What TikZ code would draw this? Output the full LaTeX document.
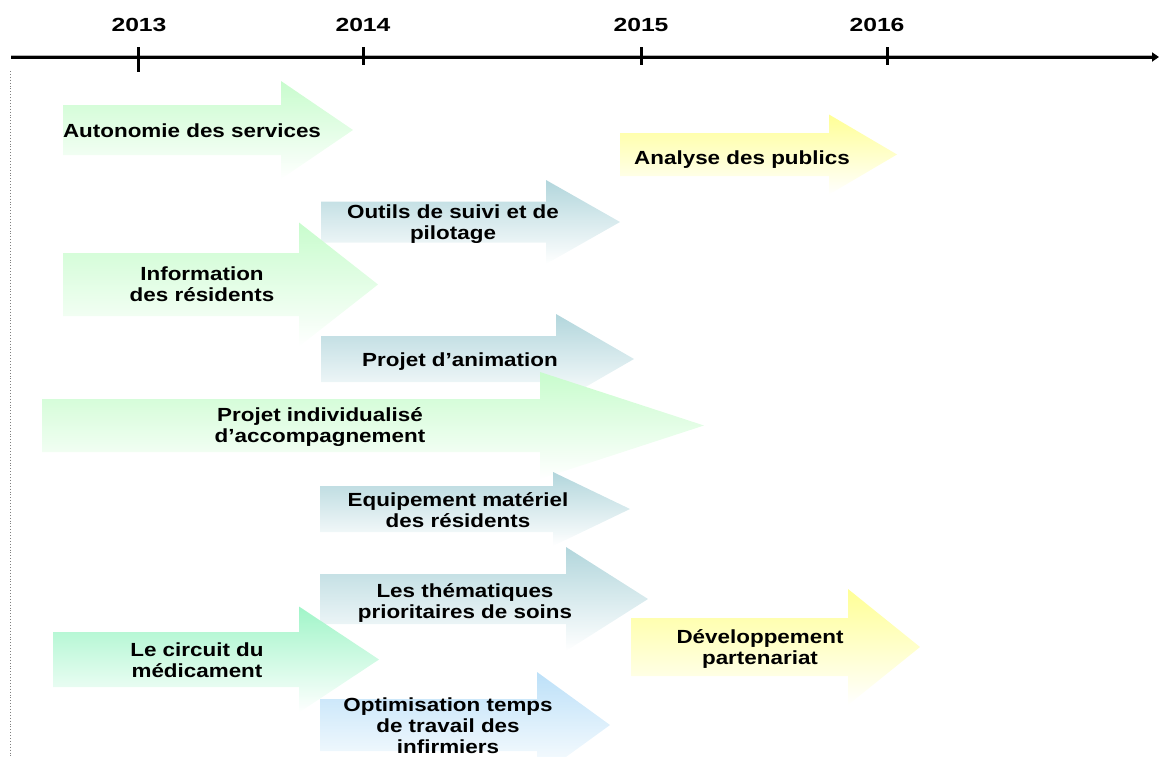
\documentclass[tikz,border=0pt]{standalone}
\usepackage{fontspec}
\setmainfont{Liberation Sans}
\usetikzlibrary{arrows.meta}
\definecolor{cgreen}{RGB}{200,252,205}
\definecolor{cmint}{RGB}{160,245,200}
\definecolor{cblue}{RGB}{178,214,220}
\definecolor{clblue}{RGB}{188,224,248}
\definecolor{cyell}{RGB}{255,255,150}
\newcommand\barrow[8]{% #1 x0 #2 xs #3 xt #4 yc #5 shaft half #6 head half #7 colour #8 name
  \shade[top color=#7, middle color=#7!55!white, bottom color=white]
    ({#1},{#4-#5}) -- ({#2},{#4-#5}) -- ({#2},{#4-#6}) -- ({#3},{#4})
    -- ({#2},{#4+#6}) -- ({#2},{#4+#5}) -- ({#1},{#4+#5}) -- cycle;
  \coordinate (#8) at ({#3},{#4});}
\newcommand\lbl[1]{\scalebox{1.18}[1]{\begin{tabular}{@{}c@{}}#1\end{tabular}}}
\tikzset{
  lab/.style={inner sep=0pt, font=\fontsize{19}{21}\selectfont\bfseries},
  yearlab/.style={inner sep=0pt, anchor=base, font=\fontsize{19}{21}\selectfont\bfseries},
  tick/.style={line width=3pt},
}
\begin{document}
\begin{tikzpicture}[x=1pt,y=-1pt]
\useasboundingbox (0,0) rectangle (1159,756);
% axis
\coordinate (ax0) at (11,57);
\coordinate (ax1) at (1159,57);
\draw[line width=4pt, gray!60] (ax0) -- ([xshift=-6pt]ax1);
\draw[line width=3pt, -{Triangle[length=7pt,width=9pt]}] (ax0) -- (ax1);
\coordinate (t13a) at (138,47); \coordinate (t13b) at (138,72);
\coordinate (t14a) at (363,47); \coordinate (t14b) at (363,65);
\coordinate (t15a) at (641,47); \coordinate (t15b) at (641,65);
\coordinate (t16a) at (887,47); \coordinate (t16b) at (887,65);
\draw[tick] (t13a) -- (t13b);
\draw[tick] (t14a) -- (t14b);
\draw[tick] (t15a) -- (t15b);
\draw[tick] (t16a) -- (t16b);
\node[yearlab] (y13) at (139,31) {\scalebox{1.3}[1]{2013}};
\node[yearlab] (y14) at (363,31) {\scalebox{1.3}[1]{2014}};
\node[yearlab] (y15) at (641,31) {\scalebox{1.3}[1]{2015}};
\node[yearlab] (y16) at (877,31) {\scalebox{1.3}[1]{2016}};
% dotted left line
\coordinate (d0) at (10,71);
\coordinate (d1) at (10,756);
\draw[gray, dotted, line width=0.9pt] (d0) -- (d1);
% arrows
\barrow{63}{281}{353}{130}{25}{49}{cgreen}{a1}
\barrow{620}{829}{897}{154.5}{21.5}{40}{cyell}{a10}
\barrow{321}{546}{620}{222}{20.5}{42}{cblue}{a3}
\barrow{63}{299}{378}{284.5}{31.5}{62}{cgreen}{a2}
\barrow{321}{556}{634}{359}{23}{45}{cblue}{a4}
\barrow{42}{540}{704}{425.5}{26.5}{53.5}{cgreen}{a5}
\barrow{320}{553}{630}{509}{23}{37}{cblue}{a6}
\barrow{320}{566}{648}{599}{25}{52}{cblue}{a7}
\barrow{631}{848}{920}{647}{29}{58}{cyell}{a11}
\barrow{53}{299}{379}{659.5}{27.5}{53}{cmint}{a8}
\barrow{320}{537}{610}{725}{26}{53}{clblue}{a9}
% labels
\node[lab] (l1) at (192,133) {\lbl{Autonomie des services}};
\node[lab] (l2) at (202,287) {\lbl{Information\\des résidents}};
\node[lab] (l3) at (453,224.5) {\lbl{Outils de suivi et de\\pilotage}};
\node[lab] (l4) at (460,362) {\lbl{Projet d’animation}};
\node[lab] (l5) at (320,427.5) {\lbl{Projet individualisé\\d’accompagnement}};
\node[lab] (l6) at (458,513) {\lbl{Equipement matériel\\des résidents}};
\node[lab] (l7) at (465,604) {\lbl{Les thématiques\\prioritaires de soins}};
\node[lab] (l8) at (197,662.5) {\lbl{Le circuit du\\médicament}};
\node[lab] (l9) at (448,728) {\lbl{Optimisation temps\\de travail des\\infirmiers}};
\node[lab] (l10) at (742,160) {\lbl{Analyse des publics}};
\node[lab] (l11) at (760,649.5) {\lbl{Développement\\partenariat}};
\end{tikzpicture}
\end{document}
